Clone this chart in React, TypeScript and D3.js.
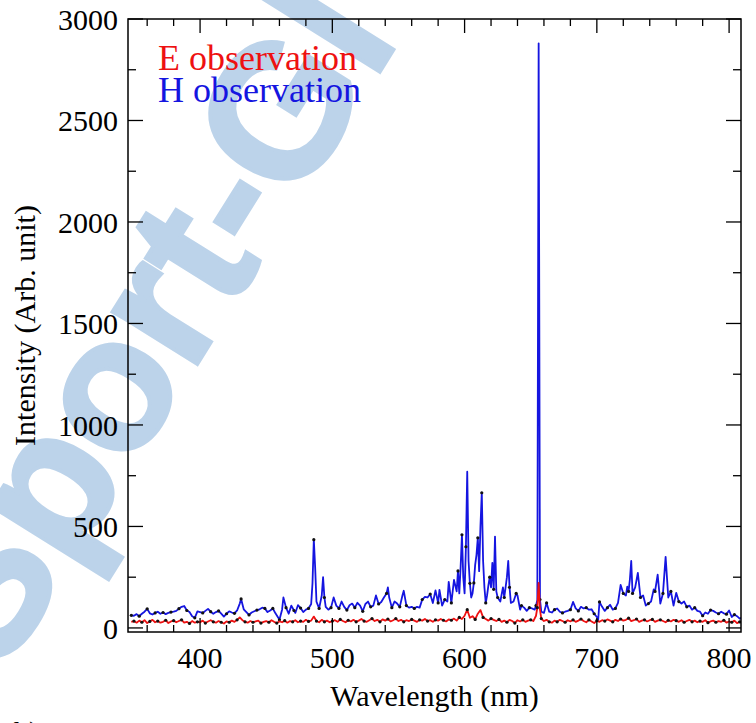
import React from 'react';
import * as d3 from 'd3';

// H observation spectrum: [wavelength nm, intensity]
const hObservation: [number, number][] = [
  [348,62],[350,60],[352,68],[354,58],[356,70],[358,80],[360,94],[362,72],[364,66],[366,74],[368,80],[370,70],
  [372,76],[374,68],[376,74],[378,78],[380,80],[382,84],[384,95],[386,104],[388,108],[390,86],[392,78],[394,58],
  [396,50],[398,82],[400,78],[402,74],[404,84],[406,94],[408,80],[410,70],[412,78],[414,84],[416,70],[418,56],
  [420,70],[422,82],[424,76],[426,72],[428,86],[430,120],[431,143],[433,92],[435,78],[437,64],[439,76],[441,82],
  [443,88],[445,92],[447,100],[449,96],[451,78],[453,86],[455,96],[457,72],[459,52],[460,40],[462,90],[463,150],
  [465,100],[467,70],[469,110],[471,86],[472,74],[474,112],[476,98],[478,78],[480,90],[482,96],[484,118],[485,220],
  [486,435],[487,300],[488,130],[490,96],[492,160],[493,250],[494,150],[495,104],[497,90],[499,100],[501,150],[503,110],
  [505,96],[507,130],[509,104],[511,88],[513,112],[515,120],[517,100],[519,124],[521,110],[523,82],[525,118],[527,130],
  [529,104],[531,110],[533,160],[535,118],[537,128],[539,150],[541,170],[542,200],[543,150],[545,100],[547,130],[549,120],
  [551,104],[553,160],[554,183],[556,110],[558,100],[560,104],[562,96],[564,104],[566,100],[568,140],[570,153],[572,150],
  [574,167],[576,123],[578,185],[580,123],[581,188],[583,110],[585,140],[587,130],[588,227],[590,123],[592,237],[594,180],
  [595,281],[596,170],[597,300],[598,459],[599,250],[600,170],[601,400],[602,770],[603,330],[604,220],[605,150],[606,170],
  [607,222],[608,311],[609,360],[610,444],[611,280],[612,500],[613,666],[614,330],[615,200],[616,123],[617,160],[618,210],
  [619,250],[620,200],[621,321],[622,190],[623,450],[624,180],[625,150],[627,130],[629,200],[630,150],[632,250],[633,330],
  [634,200],[635,123],[637,130],[639,170],[640,160],[642,90],[643,110],[645,100],[647,84],[649,100],[651,96],[653,90],
  [654,110],[655,138],[656,2880],[657,140],[658,80],[660,74],[662,123],[664,80],[666,76],[668,90],[670,96],[672,80],
  [674,74],[676,80],[678,84],[680,90],[682,128],[684,96],[686,84],[688,104],[690,96],[692,100],[694,90],[696,92],
  [698,70],[700,54],[701,40],[702,128],[704,104],[706,84],[708,100],[710,114],[712,90],[714,96],[716,124],[718,212],
  [720,170],[722,160],[723,203],[724,180],[725,240],[726,330],[727,170],[729,200],[731,271],[733,150],[735,160],[737,110],
  [739,120],[741,130],[743,190],[744,180],[746,262],[748,120],[750,170],[752,350],[754,150],[756,180],[758,110],[760,173],
  [762,130],[764,120],[766,130],[768,104],[770,110],[772,90],[774,100],[776,84],[778,80],[780,60],[782,76],[784,70],
  [786,88],[788,84],[790,76],[792,70],[794,80],[796,72],[798,68],[800,86],[802,54],[804,66],[806,58],[808,46],[810,50],
];

// E observation spectrum: [wavelength nm, intensity]
const eObservation: [number, number][] = [
  [348,30],[350,34],[352,26],[354,36],[356,28],[358,38],[360,24],[362,32],[364,40],[366,28],[368,34],[370,26],
  [372,30],[374,38],[376,24],[378,32],[380,36],[382,28],[384,34],[386,40],[388,26],[390,30],[392,22],[394,34],
  [396,26],[398,30],[400,28],[402,36],[404,24],[406,32],[408,38],[410,30],[412,26],[414,34],[416,28],[418,22],
  [420,32],[422,28],[424,36],[426,30],[428,40],[430,52],[432,38],[434,30],[436,26],[438,34],[440,28],[442,32],
  [444,36],[446,24],[448,30],[450,34],[452,28],[454,38],[456,30],[458,24],[460,32],[462,28],[464,36],[466,26],
  [468,34],[470,30],[472,38],[474,28],[476,34],[478,30],[480,40],[482,32],[484,36],[486,56],[488,34],[490,28],
  [492,40],[494,30],[496,36],[498,28],[500,34],[502,38],[504,30],[506,42],[508,34],[510,28],[512,38],[514,32],
  [516,40],[518,30],[520,36],[522,44],[524,34],[526,30],[528,38],[530,46],[532,34],[534,40],[536,30],[538,42],
  [540,36],[542,44],[544,32],[546,38],[548,46],[550,34],[552,40],[554,30],[556,38],[558,34],[560,42],[562,36],
  [564,30],[566,40],[568,36],[570,44],[572,34],[574,38],[576,30],[578,40],[580,36],[582,44],[584,38],[586,32],
  [588,42],[590,38],[592,46],[594,36],[596,52],[598,44],[600,60],[602,90],[604,50],[606,58],[608,42],[610,70],
  [612,88],[614,52],[616,44],[618,36],[620,46],[622,40],[624,34],[626,42],[628,30],[630,36],[632,28],[634,40],
  [636,34],[638,24],[640,38],[642,32],[644,40],[646,30],[648,36],[650,40],[652,34],[654,60],[655,100],[656,222],
  [657,90],[658,46],[660,34],[662,40],[664,30],[666,26],[668,36],[670,30],[672,40],[674,34],[676,28],[678,38],
  [680,32],[682,40],[684,30],[686,36],[688,44],[690,34],[692,28],[694,40],[696,32],[698,24],[700,36],[702,30],
  [704,38],[706,34],[708,42],[710,36],[712,30],[714,40],[716,34],[718,44],[720,36],[722,40],[724,48],[726,34],
  [728,38],[730,44],[732,30],[734,36],[736,40],[738,32],[740,38],[742,42],[744,30],[746,36],[748,40],[750,34],
  [752,28],[754,38],[756,32],[758,40],[760,36],[762,30],[764,38],[766,28],[768,34],[770,40],[772,30],[774,36],
  [776,28],[778,34],[780,30],[782,38],[784,26],[786,32],[788,36],[790,28],[792,34],[794,30],[796,38],[798,26],
  [800,32],[802,28],[804,36],[806,24],[808,30],[810,28],
];

const xMajorTicks = [400, 500, 600, 700, 800];
const xMinorTicks = [360, 380, 420, 440, 460, 480, 520, 540, 560, 580, 620, 640, 660, 680, 720, 740, 760, 780];
const yMajorTicks = [0, 500, 1000, 1500, 2000, 2500, 3000];
const yMinorTicks = [250, 750, 1250, 1750, 2250, 2750];

const seriesNames = ['E observation', 'H observation'];
const seriesColors = ['#ee1111', '#1515e0'];

const W = 756, H = 723;
const L = 128, R = 741, T = 19, B = 632;
const serif = '"Liberation Serif", "Times New Roman", serif';

export default function App() {
  const x = d3.scaleLinear().domain([345.5, 809]).range([L, R]);
  const y = d3.scaleLinear().domain([-20, 3000]).range([B, T]);
  const line = d3.line<[number, number]>().x(d => x(d[0])).y(d => y(d[1]));

  return (
    <svg width={W} height={H} style={{ position: 'absolute', left: 0, top: 0, background: '#fff' }}>
      <defs>
        <clipPath id="plot"><rect x={L} y={T} width={R - L} height={B - T} /></clipPath>
      </defs>
      {/* watermark */}
      <text x={2} y={676} transform="rotate(-58 2 676)" fontFamily='"Liberation Sans", Arial, sans-serif'
        fontWeight="bold" fontSize={188} fill="#bcd3ea" stroke="#bcd3ea" strokeWidth={4}>Sport-Gl</text>

      <g clipPath="url(#plot)">
        <path d={line(hObservation) || ''} fill="none" stroke={seriesColors[1]} strokeWidth={1.8} strokeLinejoin="round" />
        {hObservation.filter((_, i) => i % 3 === 0).map((d, i) => (
          <circle key={'hd' + i} cx={x(d[0])} cy={y(d[1])} r={1.6} fill="#111" />
        ))}
        <path d={line(eObservation) || ''} fill="none" stroke={seriesColors[0]} strokeWidth={1.8} strokeLinejoin="round" />
        {eObservation.filter((_, i) => i % 3 === 1).map((d, i) => (
          <circle key={'ed' + i} cx={x(d[0])} cy={y(d[1])} r={1.6} fill="#111" />
        ))}
      </g>

      {/* frame */}
      <rect x={L} y={T} width={R - L} height={B - T} fill="none" stroke="#000" strokeWidth={1.5} />

      {/* x ticks */}
      {xMajorTicks.map(t => (
        <g key={'xM' + t}>
          <line x1={x(t)} x2={x(t)} y1={B} y2={B - 14} stroke="#000" strokeWidth={1.3} />
          <line x1={x(t)} x2={x(t)} y1={T} y2={T + 14} stroke="#000" strokeWidth={1.3} />
          <text x={x(t)} y={668} textAnchor="middle" fontFamily={serif} fontSize={30}>{t}</text>
        </g>
      ))}
      {xMinorTicks.map(t => (
        <g key={'xm' + t}>
          <line x1={x(t)} x2={x(t)} y1={B} y2={B - 7} stroke="#000" strokeWidth={1.3} />
          <line x1={x(t)} x2={x(t)} y1={T} y2={T + 7} stroke="#000" strokeWidth={1.3} />
        </g>
      ))}
      {/* y ticks */}
      {yMajorTicks.map(t => (
        <g key={'yM' + t}>
          <line x1={L} x2={L + 15} y1={y(t)} y2={y(t)} stroke="#000" strokeWidth={1.3} />
          <line x1={R} x2={R - 15} y1={y(t)} y2={y(t)} stroke="#000" strokeWidth={1.3} />
          <text x={118} y={y(t) + 11} textAnchor="end" fontFamily={serif} fontSize={30}>{t}</text>
        </g>
      ))}
      {yMinorTicks.map(t => (
        <g key={'ym' + t}>
          <line x1={L} x2={L + 8} y1={y(t)} y2={y(t)} stroke="#000" strokeWidth={1.3} />
          <line x1={R} x2={R - 8} y1={y(t)} y2={y(t)} stroke="#000" strokeWidth={1.3} />
        </g>
      ))}

      {/* axis titles */}
      <text x={(L + R) / 2} y={706} textAnchor="middle" fontFamily={serif} fontSize={30}>Wavelength (nm)</text>
      <text transform={`translate(35 ${(T + B) / 2}) rotate(-90)`} textAnchor="middle" fontFamily={serif} fontSize={30}>
        Intensity (Arb. unit)
      </text>

      {/* legend */}
      {seriesNames.map((n, i) => (
        <text key={n} x={158} y={70 + i * 32} fontFamily={serif} fontSize={36} fill={seriesColors[i]}>{n}</text>
      ))}

      <text x={14} y={742} fontFamily={serif} fontSize={30}>b)</text>
    </svg>
  );
}
